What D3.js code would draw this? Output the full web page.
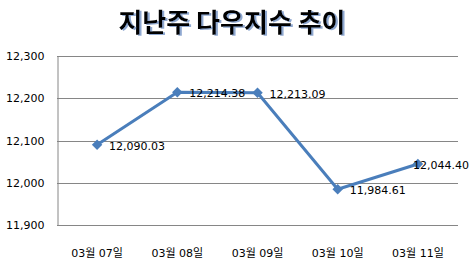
<!DOCTYPE html>
<html>
<head>
<meta charset="utf-8">
<script src="https://cdn.jsdelivr.net/npm/d3@7"></script>
<style>
    body { margin: 0; background: #fff; }
    text { font-family: "DejaVu Sans", "Noto Sans CJK KR", sans-serif; }
</style>
</head>
<body>
<div id="chart"></div>
<script>
// Dow index, last week
var days = ['03월 07일', '03월 08일', '03월 09일', '03월 10일', '03월 11일'];
var closes = [12090.03, 12214.38, 12213.09, 11984.61, 12044.40];
var yTicks = [11900, 12000, 12100, 12200, 12300];

var width = 473;
var height = 264;
var margin = { top: 56, right: 15, bottom: 39, left: 57 };

var svg = d3.select('#chart')
    .append('svg')
    .attr('width', width)
    .attr('height', height);

// shadow for the title
var shadow = svg.append('defs').append('filter')
    .attr('id', 'titleShadow')
    .attr('x', '-10%').attr('y', '-20%')
    .attr('width', '120%').attr('height', '150%');
shadow.append('feDropShadow')
    .attr('dx', 2).attr('dy', 1)
    .attr('stdDeviation', 0.6)
    .attr('flood-color', '#8fa8d0');

var x = d3.scaleBand()
    .domain(days)
    .range([margin.left, width - margin.right]);

var y = d3.scaleLinear()
    .domain([11900, 12300])
    .range([height - margin.bottom, margin.top]);

svg.append('text')
    .attr('x', 232).attr('y', 32)
    .attr('text-anchor', 'middle')
    .attr('filter', 'url(#titleShadow)')
    .style('font-family', '"Noto Sans CJK KR", sans-serif')
    .style('font-size', '26px').style('font-weight', 'bold')
    .style('fill', '#000')
    .text('지난주 다우지수 추이');

// gridlines
svg.append('g')
    .selectAll('line')
    .data(yTicks)
    .enter()
    .append('line')
    .attr('x1', margin.left)
    .attr('x2', width - margin.right)
    .attr('y1', function(d) { return Math.round(y(d)) + 0.5; })
    .attr('y2', function(d) { return Math.round(y(d)) + 0.5; })
    .style('stroke', '#868686')
    .style('stroke-width', 1);

// y axis
var yAxis = svg.append('g')
    .attr('transform', 'translate(' + (margin.left + 0.5) + ',0)')
    .call(d3.axisLeft(y).tickValues(yTicks).tickSize(0).tickPadding(13)
        .tickFormat(d3.format(',')));
yAxis.select('.domain').style('stroke', '#868686');
yAxis.selectAll('text').style('font-size', '11px').style('fill', '#000');

// x axis labels
var xAxis = svg.append('g')
    .attr('transform', 'translate(0,' + (height - margin.bottom) + ')')
    .call(d3.axisBottom(x).tickSize(0).tickPadding(24));
xAxis.select('.domain').remove();
xAxis.selectAll('text').style('font-size', '11px').style('fill', '#000');

var cx = function(d, i) { return x(days[i]) + x.bandwidth() / 2; };

// line
var line = d3.line()
    .x(function(d, i) { return cx(d, i); })
    .y(function(d) { return y(d); });

svg.append('path')
    .datum(closes)
    .attr('d', line)
    .style('fill', 'none')
    .style('stroke', '#4a7ebb')
    .style('stroke-width', 3)
    .style('stroke-linejoin', 'round');

// diamond markers
svg.append('g')
    .selectAll('path')
    .data(closes)
    .enter()
    .append('path')
    .attr('d', d3.symbol().type(d3.symbolDiamond2).size(70))
    .attr('transform', function(d, i) { return 'translate(' + cx(d, i) + ',' + y(d) + ')'; })
    .style('fill', '#4a7ebb');

// value labels, pushed back inside the chart if they run off the right edge
svg.append('g')
    .selectAll('text')
    .data(closes)
    .enter()
    .append('text')
    .attr('y', function(d) { return y(d) + 5; })
    .style('font-size', '11px')
    .style('fill', '#000')
    .text(function(d) { return d3.format(',.2f')(d); })
    .attr('x', function(d, i) {
        var w = this.getComputedTextLength();
        return Math.min(cx(d, i) + 12, width - 4 - w);
    });
</script>
</body>
</html>
